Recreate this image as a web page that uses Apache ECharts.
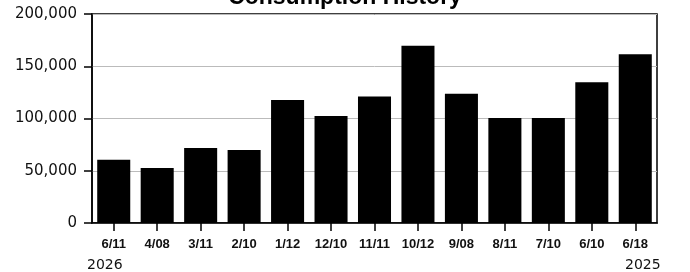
<!DOCTYPE html>
<html lang="en" style="height: 100%">
<head>
    <meta charset="UTF-8">
    <title>Consumption History</title>
</head>
<body style="height: 100%; margin: 0; background: #fff">
<div id="container" style="width: 690px; height: 272px"></div>
<script src="https://cdn.jsdelivr.net/npm/echarts@6/dist/echarts.min.js"></script>
<script>
    // billing periods, newest first
    var categories = ['6/11', '4/08', '3/11', '2/10', '1/12', '12/10', '11/11', '10/12', '9/08', '8/11', '7/10', '6/10', '6/18'];
    var consumption = [60500, 52600, 71700, 69800, 117600, 102300, 121000, 169500, 123600, 100400, 100400, 134800, 161600];
    var yTicks = [0, 50000, 100000, 150000, 200000];
    var years = ['2026', '2025'];

    var chart = echarts.init(document.getElementById('container'));

    var option = {
        animation: false,
        title: {
            text: 'Consumption History',
            left: 'center',
            top: -19,
            textStyle: {
                fontFamily: 'Liberation Sans',
                fontSize: 23,
                fontWeight: 'bold',
                color: '#000'
            }
        },
        grid: {
            left: 92,
            right: 33,
            top: 14,
            bottom: 49,
            show: true,
            borderColor: '#000',
            borderWidth: 1.5
        },
        xAxis: {
            type: 'category',
            data: categories,
            axisLine: {lineStyle: {color: '#000', width: 1.5}},
            axisTick: {show: true, length: 8, alignWithLabel: true, lineStyle: {color: '#000', width: 1.5}},
            axisLabel: {
                color: '#111',
                fontFamily: 'Liberation Sans',
                fontWeight: 'bold',
                fontSize: 13,
                margin: 15
            }
        },
        yAxis: {
            type: 'value',
            min: yTicks[0],
            max: yTicks[yTicks.length - 1],
            interval: 50000,
            axisLine: {show: true, lineStyle: {color: '#000', width: 1.5}},
            axisTick: {show: true, length: 8, lineStyle: {color: '#000', width: 1.5}},
            splitLine: {lineStyle: {color: '#bbb', width: 1}},
            axisLabel: {
                color: '#111',
                fontFamily: 'DejaVu Sans',
                fontSize: 15,
                margin: 15,
                formatter: function (v) {
                    return v.toLocaleString('en-US');
                }
            }
        },
        series: [{
            type: 'bar',
            data: consumption,
            barCategoryGap: '24%',
            itemStyle: {color: '#000'}
        }],
        graphic: [
            {
                type: 'text',
                left: 87,
                top: 258,
                style: {text: years[0], fontFamily: 'DejaVu Sans', fontSize: 14, fill: '#111'}
            },
            {
                type: 'text',
                left: 625,
                top: 258,
                style: {text: years[1], fontFamily: 'DejaVu Sans', fontSize: 14, fill: '#111'}
            }
        ]
    };

    chart.setOption(option);
</script>
</body>
</html>
